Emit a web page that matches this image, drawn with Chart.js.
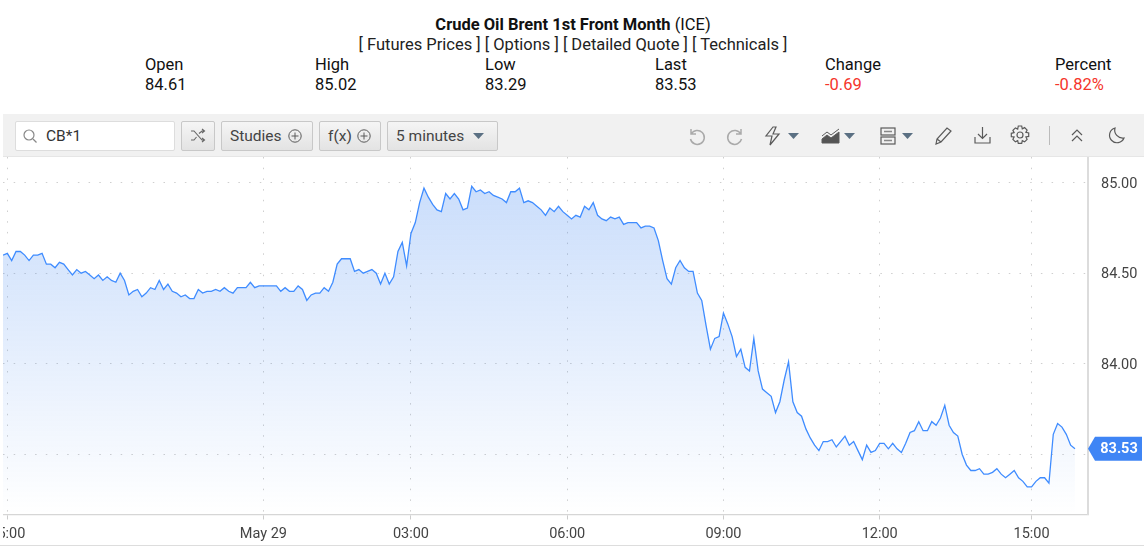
<!DOCTYPE html>
<html><head><meta charset="utf-8">
<script src="https://cdn.jsdelivr.net/npm/chart.js@4"></script>
<style>
html,body{margin:0;padding:0;background:#fff;overflow:hidden}
body{width:1144px;height:546px;position:relative;font-family:Roboto,sans-serif;color:#111}
.t{position:absolute;font-size:16.5px;line-height:20px;white-space:nowrap}
.c{left:0;width:1146px;text-align:center}
.r{color:#f5352b}
#bar{position:absolute;left:3px;top:114px;width:1141px;height:43px;background:#f1f1f1;border-bottom:1px solid #e6e6e6;box-sizing:border-box}
.b{position:absolute;top:121px;height:30px;box-sizing:border-box;border:1px solid #c8c8c8;border-radius:2px;background:linear-gradient(#f5f5f5,#e3e3e3);font-size:15.5px;line-height:28px;color:#444;white-space:nowrap;padding-left:8px}
#s{left:15px;width:160px;background:#fff;border-color:#ddd;padding-left:30px;color:#333}
svg.i{position:absolute;overflow:visible;fill:none;stroke:#5a5a5a;stroke-width:1.2}
#wrap{position:absolute;left:3px;top:157px;width:1141px;height:388px}
#line{position:absolute;left:0;top:545px;width:1144px;height:1px;background:#ddd}
</style></head><body>
<div class="t c" style="top:15px"><b>Crude Oil Brent 1st Front Month</b> (ICE)</div>
<div class="t c" style="top:35px;color:#222">[ Futures Prices ] [ Options ] [ Detailed Quote ] [ Technicals ]</div>
<div class="t" style="left:145px;top:55px">Open</div><div class="t" style="left:145px;top:75px">84.61</div>
<div class="t" style="left:315px;top:55px">High</div><div class="t" style="left:315px;top:75px">85.02</div>
<div class="t" style="left:485px;top:55px">Low</div><div class="t" style="left:485px;top:75px">83.29</div>
<div class="t" style="left:655px;top:55px">Last</div><div class="t" style="left:655px;top:75px">83.53</div>
<div class="t" style="left:825px;top:55px">Change</div><div class="t r" style="left:825px;top:75px">-0.69</div>
<div class="t" style="left:1055px;top:55px">Percent</div><div class="t r" style="left:1055px;top:75px">-0.82%</div>

<div id="bar"></div>
<div class="b" id="s">CB*1</div>
<svg class="i" style="left:22px;top:128px;stroke:#888" width="16" height="16"><circle cx="7" cy="7" r="5"/><path d="M11 11l3.500 3.500"/></svg>
<div class="b" style="left:181px;width:34px"></div>
<svg class="i" style="left:190px;top:128px;stroke:#666;stroke-width:1.1" width="16" height="16"><path d="M1 3h3l8 9h2M1 12h3l2.500-3M9 5.500L12 3h2M12 1l2.500 2L12 5M12 10l2.500 2L12 14"/></svg>
<div class="b" style="left:221px;width:92px">Studies</div>
<svg class="i" style="left:288px;top:129px;stroke-width:1" width="14" height="14"><circle cx="7" cy="7" r="6.200"/><path d="M7 3.500v7M3.500 7h7"/></svg>
<div class="b" style="left:319px;width:62px">f(x)</div>
<svg class="i" style="left:357px;top:129px;stroke-width:1" width="14" height="14"><circle cx="7" cy="7" r="6.200"/><path d="M7 3.500v7M3.500 7h7"/></svg>
<div class="b" style="left:387px;width:111px">5 minutes</div>
<svg class="i" style="left:473px;top:132px;stroke:none;fill:#5b7083" width="12" height="8"><path d="M0 1h11L5.500 7z"/></svg>
<svg class="i" style="left:687px;top:126px;stroke:#aaa;stroke-width:1.500" width="18" height="18"><path d="M4 3v5h5M4.200 8A7 7 0 1 1 3.500 13"/></svg>
<svg class="i" style="left:726px;top:126px;stroke:#aaa;stroke-width:1.500" width="18" height="18"><path d="M15 3v5h-5M14.800 8A7 7 0 1 0 15.500 13"/></svg>
<svg class="i" style="left:764px;top:126px" width="18" height="20"><path d="M9 1L2 10h6l-2 9 9-11H9l3-7z"/></svg>
<svg class="i" style="left:788px;top:132px;stroke:none;fill:#5b7083" width="12" height="8"><path d="M0 1h11L5.500 7z"/></svg>
<svg class="i" style="left:822px;top:128px;stroke-width:1" width="17" height="16"><path d="M0 8l5-4 4 3 8-6"/><path d="M0 15V11l5-4 4 3 8-6v11z" fill="#555"/></svg>
<svg class="i" style="left:844px;top:132px;stroke:none;fill:#5b7083" width="12" height="8"><path d="M0 1h11L5.500 7z"/></svg>
<svg class="i" style="left:880px;top:127px" width="16" height="18"><rect x="1" y="1" width="14" height="7"/><rect x="1" y="10" width="14" height="7"/><path d="M4 4.500h8M4 13.500h8" stroke-width="1.600" stroke="#888"/></svg>
<svg class="i" style="left:902px;top:132px;stroke:none;fill:#5b7083" width="12" height="8"><path d="M0 1h11L5.500 7z"/></svg>
<svg class="i" style="left:935px;top:126px" width="18" height="19"><path d="M1 18l1-5L12 2l4 3L6 16zM2 13l4 3"/></svg>
<svg class="i" style="left:974px;top:126px" width="17" height="18"><path d="M8.500 1v11M4 8l4.500 4.500L13 8M1 11v6h15v-6"/></svg>
<svg class="i" style="left:1010px;top:125px" width="20" height="20"><circle cx="10" cy="10" r="3"/><path d="M8.300 1h3.400l.6 2.800 2.300-1.200 2.500 2.500-1.200 2.300 2.800.6v3.400l-2.800.6 1.200 2.300-2.500 2.500-2.300-1.200-.6 2.800H8.300l-.6-2.800-2.300 1.200-2.500-2.500 1.200-2.300L1.300 11.700V8.300l2.800-.6-1.200-2.300 2.500-2.500 2.300 1.200z"/></svg>
<div style="position:absolute;left:1049px;top:126px;width:1px;height:19px;background:#bbb"></div>
<svg class="i" style="left:1071px;top:129px" width="12" height="14"><path d="M1 6l5-5 5 5M1 12l5-5 5 5"/></svg>
<svg class="i" style="left:1108px;top:127px" width="17" height="17"><path d="M7 1a7.500 7.500 0 1 0 9 10A8 8 0 0 1 7 1z"/></svg>

<div id="wrap"><canvas id="chart" width="1141" height="388"></canvas></div>
<div id="line"></div>
<script>
const prices = [
84.60,84.61,84.57,84.62,84.62,84.60,84.57,84.60,84.60,84.61,
84.55,84.55,84.53,84.56,84.55,84.52,84.49,84.52,84.50,84.51,
84.49,84.47,84.49,84.46,84.48,84.46,84.45,84.50,84.46,84.38,
84.40,84.41,84.37,84.39,84.42,84.41,84.46,84.41,84.44,84.40,
84.39,84.37,84.38,84.36,84.36,84.41,84.39,84.40,84.40,84.41,
84.40,84.42,84.40,84.39,84.42,84.42,84.42,84.45,84.42,84.43,
84.43,84.43,84.43,84.43,84.40,84.42,84.40,84.40,84.43,84.41,
84.35,84.38,84.39,84.39,84.42,84.40,84.45,84.55,
84.58,84.58,84.58,84.51,84.52,84.50,84.51,84.52,84.50,84.44,
84.50,84.44,84.48,84.62,84.67,84.54,84.72,84.78,84.89,84.97,
84.92,84.88,84.85,84.84,84.94,84.91,84.94,84.91,84.85,84.86,
84.98,84.95,84.96,84.94,84.95,84.93,84.92,84.91,84.89,84.95,
84.95,84.97,84.89,84.90,84.89,84.87,84.85,84.82,84.86,84.84,
84.87,84.84,84.82,84.80,84.82,84.81,84.87,84.85,84.89,84.82,
84.80,84.79,84.81,84.80,84.81,84.77,84.78,84.78,84.78,84.75,
84.76,84.76,84.75,84.68,84.57,84.47,84.44,84.53,84.57,
84.53,84.51,84.51,84.39,84.35,84.21,84.08,84.14,84.15,84.28,
84.22,84.15,84.04,84.08,83.98,83.96,84.14,83.96,83.86,83.84,
83.82,83.73,83.79,83.91,84.01,83.79,83.73,83.71,83.64,83.59,
83.55,83.52,83.57,83.57,83.58,83.54,83.57,83.60,83.55,83.57,
83.52,83.47,83.55,
83.51,83.52,83.56,83.56,83.53,83.56,83.53,83.51,83.56,83.62,
83.63,83.68,83.63,83.63,83.68,83.66,83.70,83.77,83.66,83.62,
83.60,83.50,83.44,83.41,83.41,83.42,83.39,83.39,83.40,83.42,
83.39,83.37,83.39,83.41,83.37,83.35,83.32,83.32,83.35,83.37,
83.37,83.34,83.61,83.67,83.65,83.61,83.55,83.53];
const tickLabels  = ['15:00','May 29','03:00','06:00','09:00','12:00','15:00'];
const tickIndices = [1,60,94,130,166,202,237];
const priceTicks  = [83.5,84,84.5,85];
const rightGapPoints = 3;
const categories = prices.concat(Array(rightGapPoints).fill(null)).map((_,i)=>i);

const lastTag = {
  id:'lastTag',
  afterDraw(c){
    const v = prices[prices.length-1], y = c.scales.y.getPixelForValue(v), x = c.chartArea.right;
    const g = c.ctx; g.save();
    g.fillStyle = '#3f85f5';
    g.beginPath();
    g.moveTo(x,y); g.lineTo(x+7,y-12); g.lineTo(x+54,y-12); g.lineTo(x+54,y+12); g.lineTo(x+7,y+12);
    g.closePath(); g.fill();
    g.fillStyle = '#fff'; g.font = 'bold 14.5px Roboto'; g.textAlign='center'; g.textBaseline='middle';
    g.fillText(v.toFixed(2), x+31, y+0.5);
    g.restore();
  }
};
const gridDots = {display:true,color:'#cfcfcf',lineWidth:1};
new Chart(document.getElementById('chart'),{
  type:'line',
  data:{labels:categories,datasets:[{
    data:prices,
    borderColor:'#3f8cff',borderWidth:1.3,pointRadius:0,tension:0,fill:'start',
    backgroundColor(ctx){
      const a = ctx.chart.chartArea; if(!a) return 'transparent';
      const g = ctx.chart.ctx.createLinearGradient(0,a.top,0,a.bottom);
      g.addColorStop(0,'rgba(50,125,240,0.28)');
      g.addColorStop(1,'rgba(50,125,240,0.0)');
      return g;
    }
  }]},
  options:{
    responsive:false,animation:false,
    layout:{padding:0},
    plugins:{legend:{display:false},tooltip:{enabled:false}},
    scales:{
      x:{
        type:'category',
        grid:{...gridDots,tickColor:'#ccc',tickLength:5,tickBorderDash:[]},
        border:{display:true,color:'#d6d6d6',width:1.3,dash:[1.5,9.2]},
        ticks:{autoSkip:false,maxRotation:0,minRotation:0,color:'#444',padding:6,font:{family:'Roboto',size:14.5},
          callback:v=>tickLabels[tickIndices.indexOf(v)]},
        afterBuildTicks(s){s.ticks=tickIndices.map(v=>({value:v}));},
        afterFit(s){s.height=30.5;s.paddingLeft=0;s.paddingRight=0;}
      },
      y:{
        position:'right',min:83.167,max:85.142,
        grid:{...gridDots,drawTicks:false},
        border:{display:true,color:'#dcdcdc',width:2,dash:[1.5,9.2]},
        ticks:{color:'#444',padding:13,labelOffset:1.5,font:{family:'Roboto',size:14.5},callback:v=>v.toFixed(2)},
        afterBuildTicks(s){s.ticks=priceTicks.map(v=>({value:v}));},
        afterFit(s){s.width=56;s.paddingTop=0;s.paddingBottom=0;}
      }
    }
  },
  plugins:[lastTag]
});
</script>
</body></html>
